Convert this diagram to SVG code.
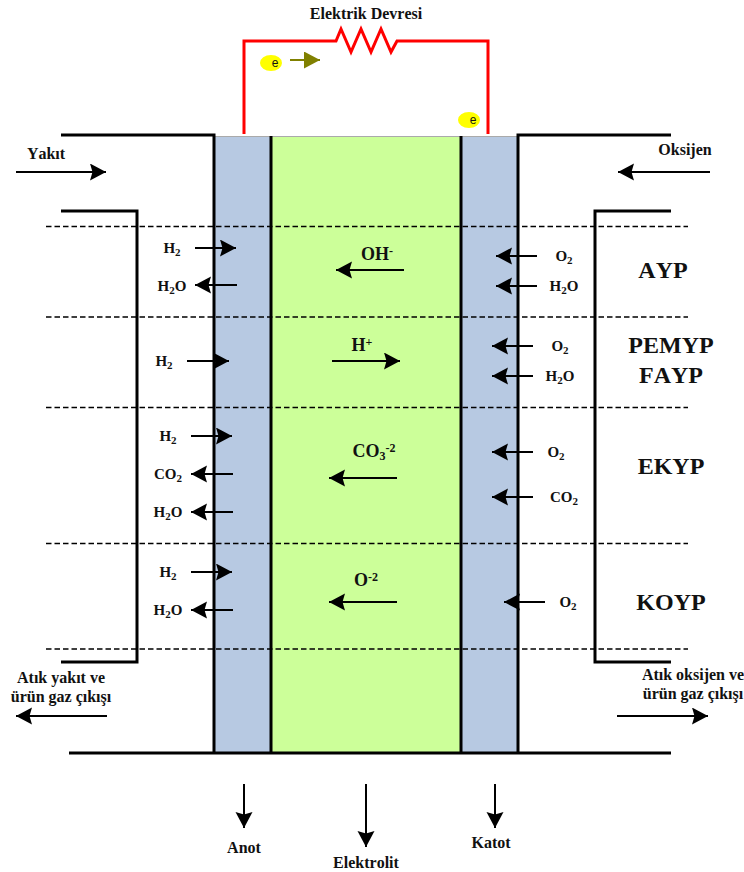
<svg xmlns="http://www.w3.org/2000/svg" width="744" height="872" viewBox="0 0 744 872">
<defs>
<marker id="ah" markerUnits="userSpaceOnUse" markerWidth="17" markerHeight="18" refX="16" refY="8.5" orient="auto"><polygon points="0,0 16,8.5 0,17 2.5,8.5" fill="#000"/></marker>
<marker id="ol" markerUnits="userSpaceOnUse" markerWidth="17" markerHeight="18" refX="16" refY="8.5" orient="auto"><polygon points="0,0 16,8.5 0,17" fill="#808000"/></marker>
</defs>
<style>
text{font-family:"Liberation Serif","Times New Roman",serif;font-weight:bold;fill:#111;text-anchor:middle;font-kerning:none}
.c{font-size:15px}.s{font-size:16px}.m{font-size:18px}.l{font-size:24px}.e{font-family:"Liberation Sans",Arial,sans-serif;font-weight:normal;font-size:12px}
.w{fill:none;stroke:#000;stroke-width:3}
.r{fill:none;stroke:#f00;stroke-width:3}
.d{fill:none;stroke:#000;stroke-width:1.500;stroke-dasharray:5.500 3}
.a{fill:none;stroke:#000;stroke-width:2;marker-end:url(#ah)}
tspan.u{font-size:11px}
tspan.v{font-size:12px}
</style>
<g id="anot-katman"><rect x="214" y="136" width="57" height="617" fill="#b7c9e2"/></g>
<g id="elektrolit-katman"><rect x="271" y="136" width="190" height="617" fill="#ccff99"/></g>
<g id="katot-katman"><rect x="461" y="136" width="57" height="617" fill="#b7c9e2"/></g>
<path d="M214 136.500H518" stroke="#aaa" stroke-width="1" fill="none"/>
<g id="devre">
<path class="r" d="M244 134V41H336L341 29L351 52L361 29L371 52L381 29L391 52L397 41H488V134"/>
<text x="366" y="19" class="s">Elektrik Devresi</text>
</g>
<g id="elektron-1"><ellipse cx="271" cy="63" rx="11" ry="8" fill="#ff0"/><text x="275" y="67" class="e">e</text></g>
<g id="elektron-2"><ellipse cx="469" cy="120" rx="11" ry="8" fill="#ff0"/><text x="473" y="124" class="e">e</text></g>
<g id="govde">
<path class="w" d="M61 135H214V753M518 753V135H671M61 211H137V662H61M671 211H595V662H671M69 753H671M271 136V753M461 136V753"/>
</g>
<g id="connectors">
<path class="d" d="M46 226.500H688M46 317H688M46 407.500H688M46 543.500H688M46 649H688"/>
<path d="M290 60H320" fill="none" stroke="#808000" stroke-width="2" marker-end="url(#ol)"/>
<path class="a" d="M16 172H106"/><path class="a" d="M710 172H618"/>
<path class="a" d="M195 248H236"/><path class="a" d="M237 285H195"/><path class="a" d="M187 361H229"/>
<path class="a" d="M191 436H232"/><path class="a" d="M233 474H191"/><path class="a" d="M233 512H191"/>
<path class="a" d="M191 572H232"/><path class="a" d="M233 610H191"/>
<path class="a" d="M537 256H496"/><path class="a" d="M537 286H496"/><path class="a" d="M533 346H492"/><path class="a" d="M533 376H492"/>
<path class="a" d="M533 452H492"/><path class="a" d="M533 497H492"/><path class="a" d="M545 602H504"/>
<path class="a" d="M404 270H336"/><path class="a" d="M332 361H400"/><path class="a" d="M397 478H329"/><path class="a" d="M397 602H329"/>
<path class="a" d="M107 716H16"/><path class="a" d="M617 716H708"/>
<path class="a" d="M244 784V828"/><path class="a" d="M366 784V847"/><path class="a" d="M495 784V828"/>
</g>
<g id="etiketler">
<text x="46" y="159" class="s">Yakıt</text>
<text x="685" y="155" class="s">Oksijen</text>
<text x="172" y="253" class="c">H<tspan class="u" dy="3">2</tspan></text>
<text x="172" y="291" class="c">H<tspan class="u" dy="3">2</tspan><tspan dy="-3">O</tspan></text>
<text x="164" y="366" class="c">H<tspan class="u" dy="3">2</tspan></text>
<text x="168" y="441" class="c">H<tspan class="u" dy="3">2</tspan></text>
<text x="168" y="479" class="c">CO<tspan class="u" dy="3">2</tspan></text>
<text x="168" y="517" class="c">H<tspan class="u" dy="3">2</tspan><tspan dy="-3">O</tspan></text>
<text x="168" y="577" class="c">H<tspan class="u" dy="3">2</tspan></text>
<text x="168" y="615" class="c">H<tspan class="u" dy="3">2</tspan><tspan dy="-3">O</tspan></text>
<text x="564" y="261" class="c">O<tspan class="u" dy="3">2</tspan></text>
<text x="564" y="291" class="c">H<tspan class="u" dy="3">2</tspan><tspan dy="-3">O</tspan></text>
<text x="560" y="351" class="c">O<tspan class="u" dy="3">2</tspan></text>
<text x="560" y="381" class="c">H<tspan class="u" dy="3">2</tspan><tspan dy="-3">O</tspan></text>
<text x="556" y="457" class="c">O<tspan class="u" dy="3">2</tspan></text>
<text x="564" y="502" class="c">CO<tspan class="u" dy="3">2</tspan></text>
<text x="568" y="607" class="c">O<tspan class="u" dy="3">2</tspan></text>
<text x="377" y="260" class="m">OH<tspan class="v" dy="-5">-</tspan></text>
<text x="362" y="351" class="m">H<tspan class="v" dy="-5">+</tspan></text>
<text x="374" y="457" class="m">CO<tspan class="v" dy="3">3</tspan><tspan class="v" dy="-8">-2</tspan></text>
<text x="366" y="586" class="m">O<tspan class="v" dy="-5">-2</tspan></text>
<text x="663" y="278" class="l">AYP</text>
<text x="671" y="353" class="l">PEMYP</text>
<text x="671" y="383" class="l">FAYP</text>
<text x="671" y="474" class="l">EKYP</text>
<text x="671" y="610" class="l">KOYP</text>
<text x="61" y="683" class="s">Atık yakıt ve</text>
<text x="61" y="702" class="s">ürün gaz çıkışı</text>
<text x="693" y="680" class="s">Atık oksijen ve</text>
<text x="693" y="699" class="s">ürün gaz çıkışı</text>
<text x="244" y="853" class="s">Anot</text>
<text x="366" y="868" class="s">Elektrolit</text>
<text x="491" y="848" class="s">Katot</text>
</g>
</svg>
